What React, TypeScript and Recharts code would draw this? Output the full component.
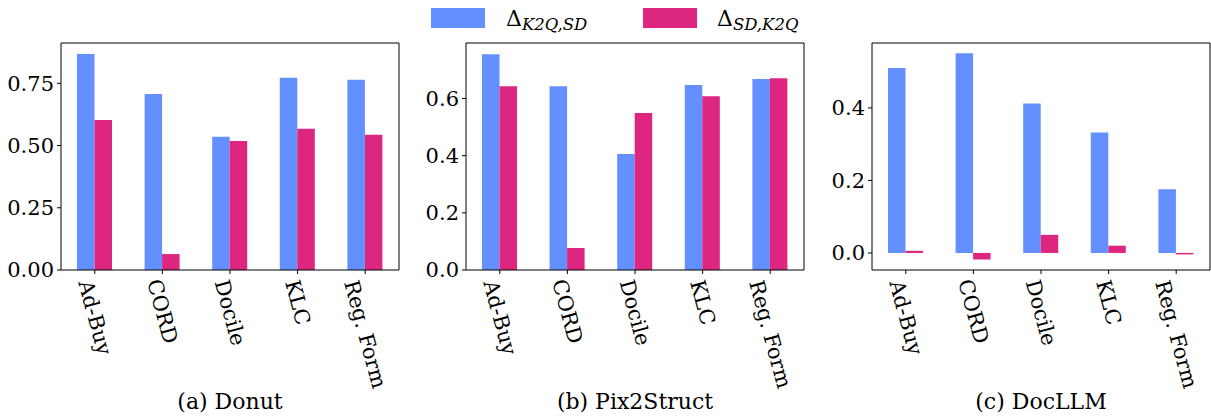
import React from 'react'
import { BarChart, Bar, XAxis, YAxis, Legend } from 'recharts'

const categories = ['Ad-Buy', 'CORD', 'Docile', 'KLC', 'Reg. Form']

// Δ_{K2Q,SD} and Δ_{SD,K2Q} per dataset, one pair of arrays per model
const donutK2qSd = [0.868, 0.707, 0.535, 0.772, 0.764]
const donutSdK2q = [0.603, 0.064, 0.518, 0.567, 0.543]
const pix2structK2qSd = [0.755, 0.643, 0.406, 0.647, 0.668]
const pix2structSdK2q = [0.643, 0.077, 0.549, 0.608, 0.671]
const docllmK2qSd = [0.510, 0.551, 0.412, 0.332, 0.176]
const docllmSdK2q = [0.006, -0.018, 0.050, 0.020, -0.004]

const donutTicks = [0, 0.25, 0.5, 0.75]
const pix2structTicks = [0, 0.2, 0.4, 0.6]
const docllmTicks = [0, 0.2, 0.4]

const BLUE = '#648FFF'
const PINK = '#DC267F'
const FONT = '"DejaVu Serif", serif'
const TICK_SIZE = 21

// approximate DejaVu Serif advance widths (em) for the rotated labels
const charW: Record<string, number> = {
    A: 0.722, d: 0.64, '-': 0.338, B: 0.735, u: 0.644, y: 0.565, C: 0.765, O: 0.787, R: 0.726, D: 0.77,
    o: 0.602, c: 0.56, i: 0.32, l: 0.32, e: 0.592, K: 0.75, L: 0.637, g: 0.635, '.': 0.318, ' ': 0.318,
    F: 0.683, r: 0.478, m: 0.948,
}
const textLen = (s: string) => s.split('').reduce((a, ch) => a + (charW[ch] ?? 0.6), 0) * TICK_SIZE

const ANGLE = 75
const XTick = (props: any) => {
    const { x, y, payload } = props
    const rad = (ANGLE * Math.PI) / 180
    const L = textLen(String(payload.value))
    const h = TICK_SIZE * 0.95
    const H = Math.sin(rad) * L + Math.cos(rad) * h
    const cy = y + H / 2
    return (
        <text
            x={x}
            y={cy}
            textAnchor="middle"
            dominantBaseline="central"
            style={{ fontFamily: FONT, fontSize: TICK_SIZE }}
            fill="#000"
            transform={`rotate(${ANGLE}, ${x}, ${cy})`}
        >
            {payload.value}
        </text>
    )
}

const LegendContent = () => (
    <svg width={380} height={40} style={{ fontFamily: FONT }}>
        <rect x={0} y={8} width={54} height={20} fill={BLUE} />
        <text x={75} y={26} fontSize={22} fill="#000">
            Δ<tspan fontSize={16.5} fontStyle="italic" dy={4}>K2Q,SD</tspan>
        </text>
        <rect x={212} y={8} width={54} height={20} fill={PINK} />
        <text x={286} y={26} fontSize={22} fill="#000">
            Δ<tspan fontSize={16.5} fontStyle="italic" dy={4}>SD,K2Q</tspan>
        </text>
    </svg>
)

type PanelProps = {
    left: number
    title: string
    k2qSd: number[]
    sdK2q: number[]
    domain: [number, number]
    ticks: number[]
    digits: number
    legend?: boolean
}

const frameLine = { stroke: '#000', strokeWidth: 1 }

const Panel = ({ left, title, k2qSd, sdK2q, domain, ticks, digits, legend }: PanelProps) => {
    const data = categories.map((name, i) => ({ name, k2qSd: k2qSd[i], sdK2q: sdK2q[i] }))
    return (
        <div style={{ position: 'absolute', left, top: 0, width: 400, height: 419 }}>
            <BarChart
                width={400}
                height={419}
                data={data}
                margin={{ top: 42, right: 0, left: 5, bottom: 0 }}
                barGap={0}
                barSize={17.5}
            >
                <XAxis
                    dataKey="name"
                    height={149}
                    interval={0}
                    axisLine={frameLine}
                    tickLine={{ stroke: '#000' }}
                    tickSize={4}
                    tickMargin={4}
                    tick={<XTick />}
                />
                {/* top and right spines */}
                <XAxis xAxisId="top" dataKey="name" orientation="top" height={1} axisLine={frameLine} tick={false} tickLine={false} />
                <YAxis yAxisId="right" orientation="right" width={1} domain={domain} allowDataOverflow axisLine={frameLine} tick={false} tickLine={false} />
                <YAxis
                    type="number"
                    width={56}
                    domain={domain}
                    allowDataOverflow
                    ticks={ticks}
                    axisLine={frameLine}
                    tickLine={{ stroke: '#000' }}
                    tickSize={4}
                    tickMargin={3}
                    tick={{ fill: '#000', fontSize: TICK_SIZE, fontFamily: FONT }}
                    tickFormatter={(v: number) => v.toFixed(digits)}
                />
                <Bar dataKey="k2qSd" name="K2Q,SD" fill={BLUE} isAnimationActive={false} />
                <Bar dataKey="sdK2q" name="SD,K2Q" fill={PINK} isAnimationActive={false} />
                {legend && (
                    <Legend
                        verticalAlign="middle"
                        layout="horizontal"
                        content={<LegendContent />}
                        wrapperStyle={{ top: 0, left: 26, width: 380, height: 40 }}
                    />
                )}
            </BarChart>
            <div
                style={{
                    position: 'absolute',
                    left: 61,
                    top: 391,
                    width: 338,
                    textAlign: 'center',
                    fontFamily: FONT,
                    fontSize: 22,
                    lineHeight: '22px',
                    color: '#000',
                    whiteSpace: 'nowrap',
                }}
            >
                {title}
            </div>
        </div>
    )
}

export default function App() {
    return (
        <div style={{ position: 'absolute', left: 0, top: 0, width: 1211, height: 419, background: '#fff', overflow: 'hidden' }}>
            <Panel left={0} title="(a) Donut" k2qSd={donutK2qSd} sdK2q={donutSdK2q} domain={[0, 0.912]} ticks={donutTicks} digits={2} />
            <Panel left={405} title="(b) Pix2Struct" k2qSd={pix2structK2qSd} sdK2q={pix2structSdK2q} domain={[0, 0.794]} ticks={pix2structTicks} digits={1} legend />
            <Panel left={811} title="(c) DocLLM" k2qSd={docllmK2qSd} sdK2q={docllmSdK2q} domain={[-0.047, 0.579]} ticks={docllmTicks} digits={1} />
        </div>
    )
}
